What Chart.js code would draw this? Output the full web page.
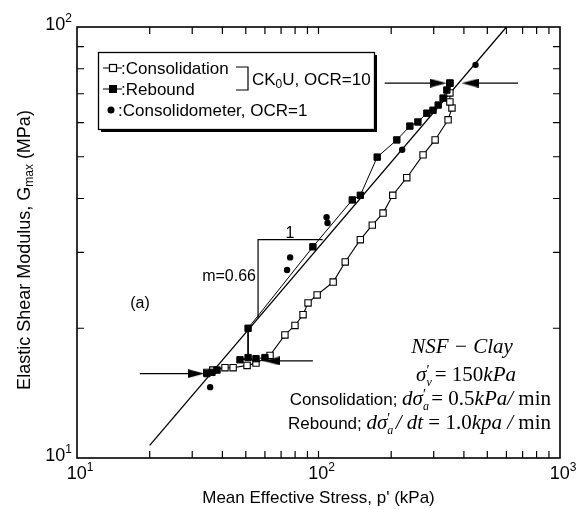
<!DOCTYPE html>
<html>
<head>
<meta charset="utf-8">
<script src="https://cdn.jsdelivr.net/npm/chart.js@4.4.0/dist/chart.umd.min.js"></script>
<style>
  html, body { margin: 0; padding: 0; background: #fff; }
  #wrap { width: 582px; height: 509px; position: relative; }
</style>
</head>
<body>
<div id="wrap"><canvas id="myChart"></canvas></div>
<script>
// mean effective stress p' (kPa) and Gmax (MPa)
var consP = [34.5, 36.5, 41.0, 44.3, 50.6, 55.1, 63.0, 72.6, 79.9, 86.3, 90.5, 98.7, 115, 129, 149, 167, 185, 203, 232, 271, 304, 344, 357, 350, 350, 350];
var consG = [15.8, 16.0, 16.2, 16.2, 16.4, 16.6, 17.3, 19.3, 20.3, 21.5, 22.9, 23.9, 25.6, 28.5, 32.1, 34.7, 37.0, 40.7, 44.7, 50.5, 54.7, 60.9, 64.9, 67.0, 70.3, 74.1];

var rebP = [350, 340, 328, 313, 298, 281, 258, 239, 211, 175, 149, 138, 94.8, 51.1, 51.1, 47.3, 55.1, 60.0];
var rebG = [74.1, 71.4, 68.4, 65.9, 64.1, 63.1, 60.2, 58.9, 54.7, 49.9, 40.7, 39.7, 30.9, 20.0, 17.1, 16.9, 17.0, 17.1];

var rebLowP = [34.5, 36.2, 38.0];
var rebLowG = [15.7, 15.8, 16.0];

var oedP = [35.6, 74.1, 76.3, 108, 109, 222, 447];
var oedG = [14.6, 27.3, 29.2, 36.2, 35.1, 51.9, 81.7];

// fitted line, m = 0.66
var fitP = [20, 600];
var fitG = [10.7, 100];

// slope triangle
var slopeP = [104, 56.2, 56.2];
var slopeG = [32.1, 32.1, 21.1];

// arrows: tail, head
var arrTopLP = [188, 313], arrTopLG = [74.1, 74.1];
var arrTopRP = [670, 424], arrTopRG = [74.1, 74.1];
var arrLowLP = [18.2, 31.1], arrLowLG = [15.7, 15.7];
var arrLowRP = [94.8, 64.1], arrLowRG = [16.8, 16.8];

var xMajor = [10, 100, 1000], xExp = ['1', '2', '3'];
var yMajor = [10, 100], yExp = ['1', '2'];
var xMinor = [20, 30, 40, 50, 60, 70, 80, 90, 100, 200, 300, 400, 500, 600, 700, 800, 900];
var yMinor = [20, 30, 40, 50, 60, 70, 80, 90];

var SANS = '"Liberation Sans", Arial, sans-serif';
var SERIF = '"Liberation Serif", "Times New Roman", serif';

function pts(xs, ys) {
  return xs.map(function (x, i) { return { x: x, y: ys[i] }; });
}

function makeArrow(dir) {
  var c = document.createElement('canvas');
  c.width = 17; c.height = 9;
  var g = c.getContext('2d');
  g.fillStyle = '#000';
  g.beginPath();
  if (dir > 0) { g.moveTo(0, 0); g.lineTo(17, 4.5); g.lineTo(0, 9); }
  else { g.moveTo(17, 0); g.lineTo(0, 4.5); g.lineTo(17, 9); }
  g.closePath();
  g.fill();
  return c;
}
var arrowR = makeArrow(1), arrowL = makeArrow(-1);

// draws a row of text pieces with their own fonts / offsets
function runs(ctx, x, y, parts, align) {
  var w = 0;
  parts.forEach(function (p) { ctx.font = p.f; if (!p.stay) w += ctx.measureText(p.t).width; });
  var cx = align === 'right' ? x - w : align === 'center' ? x - w / 2 : x;
  parts.forEach(function (p) {
    ctx.font = p.f;
    ctx.fillText(p.t, cx, y + (p.dy || 0));
    if (!p.stay) cx += ctx.measureText(p.t).width;
  });
}

function arrowSet(xs, ys, head) {
  return {
    data: pts(xs, ys), showLine: true, borderColor: '#000', borderWidth: 1.2,
    pointStyle: ['circle', head], pointRadius: [0, 5], backgroundColor: '#000'
  };
}

var decor = {
  id: 'decor',
  afterDraw: function (chart) {
    var ctx = chart.ctx, a = chart.chartArea, xs = chart.scales.x, ys = chart.scales.y;
    ctx.save();
    ctx.strokeStyle = '#000';
    ctx.fillStyle = '#000';
    ctx.lineWidth = 1.6;
    ctx.strokeRect(a.left, a.top, a.right - a.left, a.bottom - a.top);

    // inward ticks on all four sides
    ctx.lineWidth = 1.2;
    ctx.beginPath();
    xMinor.forEach(function (v) {
      var px = xs.getPixelForValue(v);
      ctx.moveTo(px, a.bottom); ctx.lineTo(px, a.bottom - 7);
      ctx.moveTo(px, a.top); ctx.lineTo(px, a.top + 7);
    });
    yMinor.forEach(function (v) {
      var py = ys.getPixelForValue(v);
      ctx.moveTo(a.left, py); ctx.lineTo(a.left + 7, py);
      ctx.moveTo(a.right, py); ctx.lineTo(a.right - 7, py);
    });
    ctx.stroke();

    // tick labels 10^n
    ctx.textBaseline = 'alphabetic';
    xMajor.forEach(function (v, i) {
      var px = xs.getPixelForValue(v);
      runs(ctx, px + 3, a.bottom + 21, [
        { t: '10', f: '18px ' + SANS },
        { t: xExp[i], f: '12px ' + SANS, dy: -8 }
      ], 'center');
    });
    yMajor.forEach(function (v, i) {
      var py = ys.getPixelForValue(v);
      runs(ctx, a.left - 5, py + 3, [
        { t: '10', f: '18px ' + SANS },
        { t: yExp[i], f: '12px ' + SANS, dy: -8 }
      ], 'right');
    });

    // axis titles
    runs(ctx, (a.left + a.right) / 2, 503, [
      { t: "Mean Effective Stress, p' (kPa)", f: '17px ' + SANS }
    ], 'center');
    ctx.save();
    ctx.translate(30, 250);
    ctx.rotate(-Math.PI / 2);
    runs(ctx, 0, 0, [
      { t: 'Elastic Shear Modulus, G', f: '18px ' + SANS },
      { t: 'max', f: '12px ' + SANS, dy: 3 },
      { t: ' (MPa)', f: '18px ' + SANS }
    ], 'center');
    ctx.restore();

    // legend box
    ctx.lineWidth = 1.3;
    ctx.strokeRect(98.5, 52.5, 276, 77);
    ctx.fillRect(374, 55, 3, 77);
    ctx.fillRect(101, 129, 276, 3);
    ctx.lineWidth = 1.2;
    ctx.beginPath();
    ctx.moveTo(103, 68); ctx.lineTo(122, 68);
    ctx.moveTo(103, 89); ctx.lineTo(122, 89);
    ctx.stroke();
    ctx.fillStyle = '#fff';
    ctx.fillRect(109.5, 64.5, 7, 7);
    ctx.strokeRect(109.5, 64.5, 7, 7);
    ctx.fillStyle = '#000';
    ctx.fillRect(109, 85, 8, 8);
    ctx.beginPath();
    ctx.arc(111, 110, 3.5, 0, Math.PI * 2);
    ctx.fill();
    runs(ctx, 121, 74, [{ t: ':Consolidation', f: '17px ' + SANS }]);
    runs(ctx, 121, 95, [{ t: ':Rebound', f: '17px ' + SANS }]);
    runs(ctx, 118, 116, [{ t: ':Consolidometer, OCR=1', f: '17px ' + SANS }]);
    ctx.beginPath();
    ctx.moveTo(236, 67); ctx.lineTo(248, 67); ctx.lineTo(248, 90); ctx.lineTo(236, 90);
    ctx.stroke();
    runs(ctx, 252, 85, [
      { t: 'CK', f: '17px ' + SANS },
      { t: '0', f: '12px ' + SANS, dy: 3 },
      { t: 'U, OCR=10', f: '17px ' + SANS }
    ]);

    // slope labels
    runs(ctx, 290, 238, [{ t: '1', f: '16px ' + SANS }], 'center');
    runs(ctx, 256, 281, [{ t: 'm=0.66', f: '16px ' + SANS }], 'right');
    runs(ctx, 140, 308, [{ t: '(a)', f: '16px ' + SANS }], 'center');

    // test conditions
    var it = 'italic 21px ' + SERIF, rm = '21px ' + SERIF;
    var sub = 'italic 12px ' + SERIF, pr = '14px ' + SERIF;
    runs(ctx, 462, 353, [{ t: 'NSF \u2212 Clay', f: it }], 'center');
    runs(ctx, 466, 381, [
      { t: '\u03c3', f: it },
      { t: 'v', f: sub, dy: 5, stay: true },
      { t: '\u2032', f: pr, dy: -6 },
      { t: ' = 150', f: rm },
      { t: 'kPa', f: it }
    ], 'center');
    runs(ctx, 551, 405, [
      { t: 'Consolidation; ', f: '17px ' + SANS },
      { t: 'd\u03c3', f: it },
      { t: 'a', f: sub, dy: 5, stay: true },
      { t: '\u2032', f: pr, dy: -6 },
      { t: ' = 0.5', f: rm },
      { t: 'kPa', f: it },
      { t: '/', f: it },
      { t: ' min', f: rm }
    ], 'right');
    runs(ctx, 551, 429, [
      { t: 'Rebound; ', f: '17px ' + SANS },
      { t: 'd\u03c3', f: it },
      { t: 'a', f: sub, dy: 5, stay: true },
      { t: '\u2032', f: pr, dy: -6 },
      { t: ' / ', f: it },
      { t: 'dt', f: it },
      { t: ' = 1.0', f: rm },
      { t: 'kpa', f: it },
      { t: ' / ', f: it },
      { t: 'min', f: rm }
    ], 'right');
    ctx.restore();
  }
};

var ctx = document.getElementById('myChart').getContext('2d');
var myChart = new Chart(ctx, {
  type: 'scatter',
  data: {
    datasets: [
      {
        data: pts(oedP, oedG), showLine: false, pointStyle: 'circle',
        pointRadius: 3.2, backgroundColor: '#000', borderColor: '#000', borderWidth: 0
      },
      {
        data: pts(rebLowP, rebLowG), showLine: true, pointStyle: 'rect',
        pointRadius: 4.5, backgroundColor: '#000', borderColor: '#000', borderWidth: 1
      },
      {
        data: pts(rebP, rebG), showLine: true, pointStyle: 'rect',
        pointRadius: 4.5, backgroundColor: '#000', borderColor: '#000', borderWidth: 1
      },
      {
        data: pts(consP, consG), showLine: true, pointStyle: 'rect',
        pointRadius: 4.5, backgroundColor: '#fff', borderColor: '#000', borderWidth: 1.1
      },
      arrowSet(arrTopLP, arrTopLG, arrowR),
      arrowSet(arrTopRP, arrTopRG, arrowL),
      arrowSet(arrLowLP, arrLowLG, arrowR),
      arrowSet(arrLowRP, arrLowRG, arrowL),
      {
        data: pts(slopeP, slopeG), showLine: true, pointRadius: 0,
        borderColor: '#000', borderWidth: 1.2
      },
      {
        data: pts(fitP, fitG), showLine: true, pointRadius: 0,
        borderColor: '#000', borderWidth: 1.3
      }
    ]
  },
  options: {
    responsive: true,
    maintainAspectRatio: false,
    animation: false,
    layout: { padding: { left: 77, top: 27, right: 22, bottom: 51 } },
    scales: {
      x: { type: 'logarithmic', min: 10, max: 1000, display: false },
      y: { type: 'logarithmic', min: 10, max: 100, display: false }
    },
    plugins: { legend: { display: false }, tooltip: { enabled: false } }
  },
  plugins: [decor]
});
</script>
</body>
</html>
